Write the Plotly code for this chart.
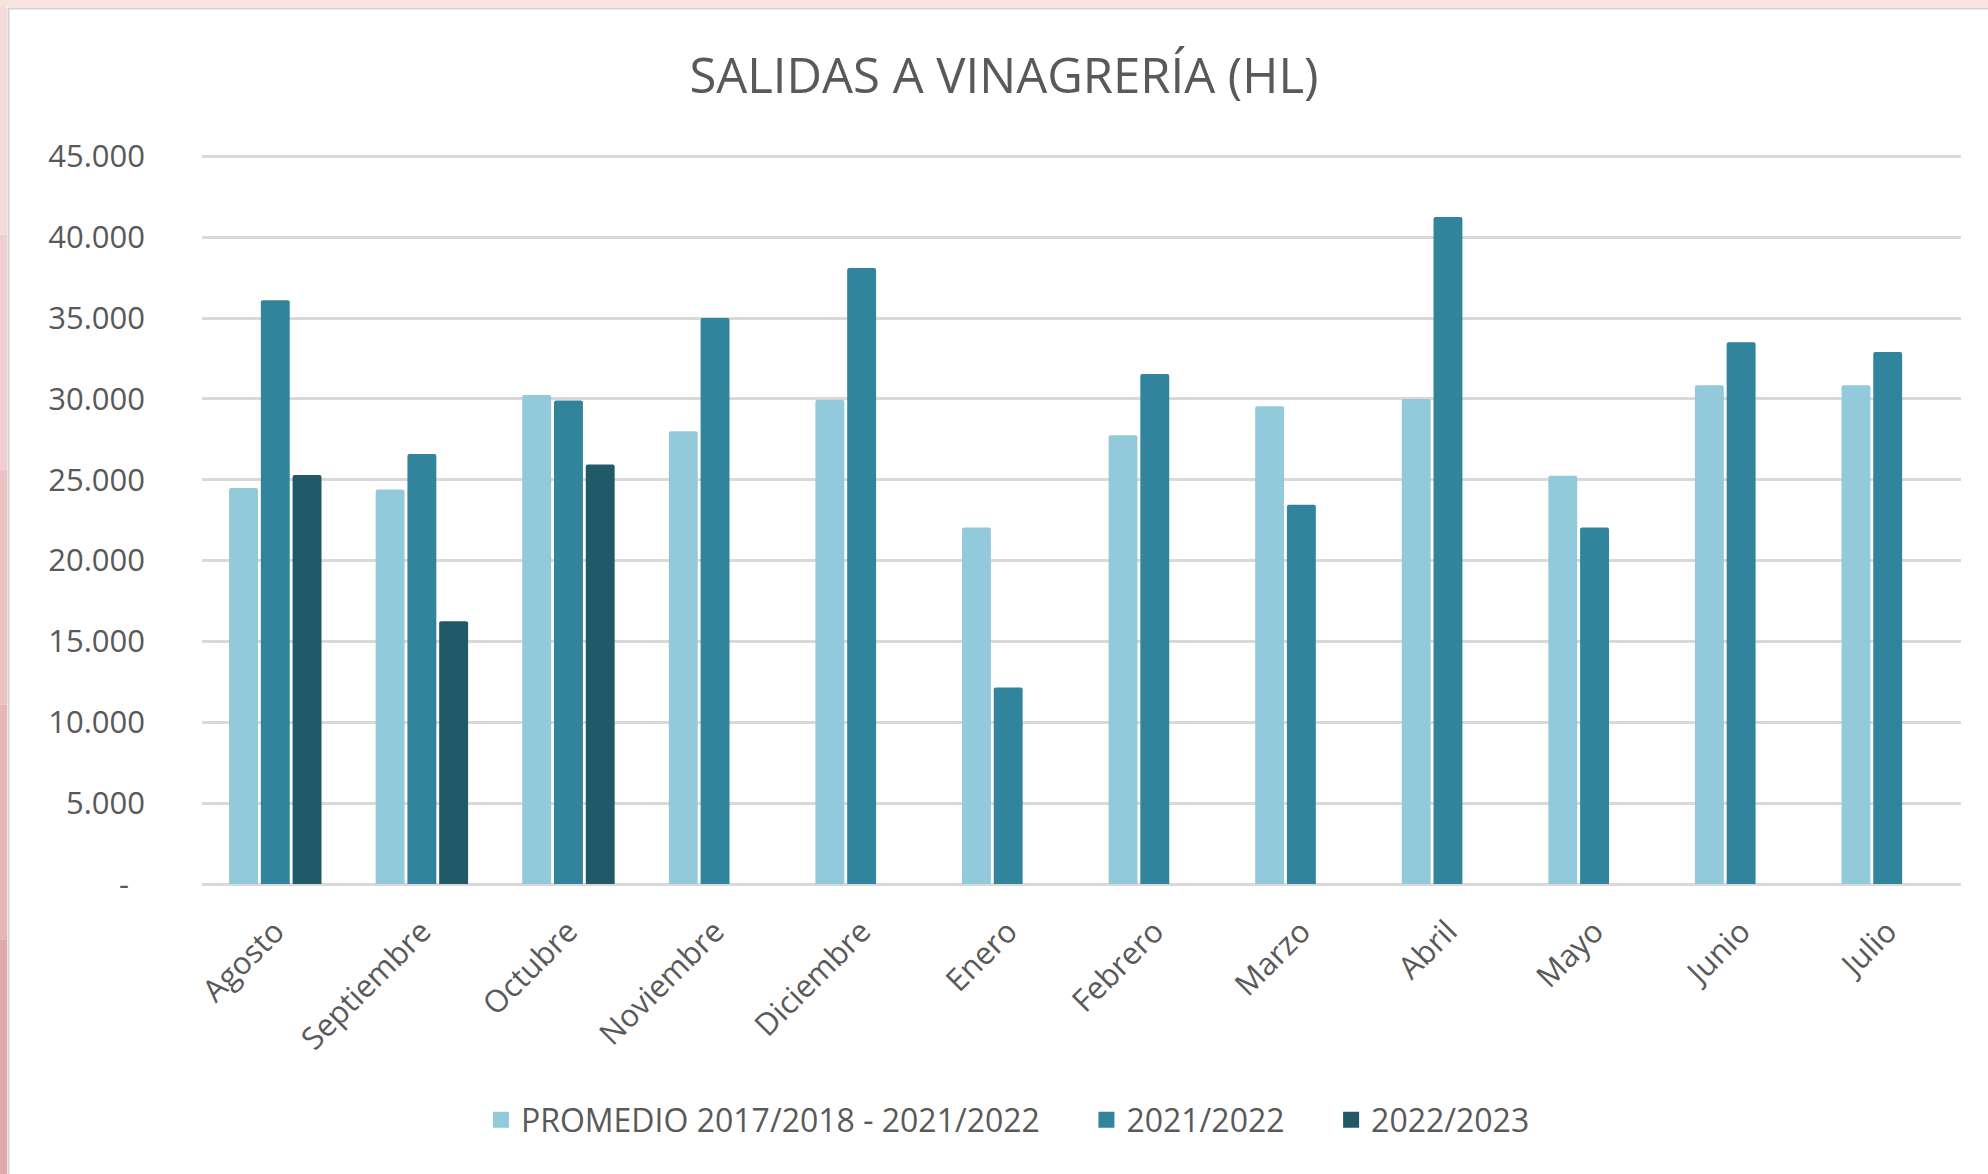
import plotly.graph_objects as go

months = ["Agosto", "Septiembre", "Octubre", "Noviembre", "Diciembre", "Enero",
          "Febrero", "Marzo", "Abril", "Mayo", "Junio", "Julio"]
promedio = [24500, 24400, 30250, 28000, 29950, 22050, 27750, 29550, 30000, 25250, 30850, 30850]
s2122 = [36100, 26600, 29900, 35000, 38100, 12150, 31550, 23450, 41250, 22050, 33500, 32900]
s2223 = [25300, 16250, 25950, None, None, None, None, None, None, None, None, None]
series_names = ["PROMEDIO 2017/2018 - 2021/2022", "2021/2022", "2022/2023"]
colors = ["#92CADC", "#31849B", "#205A69"]
ytick_vals = [0, 5000, 10000, 15000, 20000, 25000, 30000, 35000, 40000, 45000]
ytick_text = ["-\u00a0\u00a0", "5.000", "10.000", "15.000", "20.000", "25.000",
              "30.000", "35.000", "40.000", "45.000"]

W, H = 1988, 1174
ML, MR, MT, MB = 202, 27, 154, 290
PW, PH = W - ML - MR, H - MT - MB

def px(x):
    return (x - ML) / PW

def py(y):
    return (H - MB - y) / PH

FONT = "Open Sans"
TXT = "#595959"
PAD = "\u00a0" * 5

fig = go.Figure()
for name, vals, col in zip(series_names, [promedio, s2122, s2223], colors):
    fig.add_trace(go.Bar(x=months, y=vals, name=name, showlegend=False,
                         legendgroup=name, marker=dict(color=col, line=dict(width=0))))
# legend entries (square swatches)
for i, (name, col) in enumerate(zip(series_names, colors)):
    label = name + (PAD if i < len(series_names) - 1 else "")
    fig.add_trace(go.Scatter(x=[None], y=[None], mode="markers", name=label,
                             legendgroup=name,
                             marker=dict(symbol="square", size=16, color=col),
                             hoverinfo="skip"))

shapes = []
segs = ["#f3dadb", "#efcfd0", "#eac2c3", "#e5b5b7", "#e0aaac"]
n = len(segs)
for i, c in enumerate(segs):
    shapes.append(dict(type="rect", xref="paper", yref="paper", layer="above",
                       x0=px(0), x1=px(7), y0=py(H * (i + 1) / n), y1=py(H * i / n),
                       fillcolor=c, line=dict(width=0)))
shapes.append(dict(type="rect", xref="paper", yref="paper", layer="above",
                   x0=px(0), x1=px(W), y0=py(7), y1=py(0),
                   fillcolor="#f9e2e2", line=dict(width=0)))
shapes.append(dict(type="line", xref="paper", yref="paper", layer="above",
                   x0=px(8.5), x1=px(8.5), y0=py(H), y1=py(8),
                   line=dict(color="#d4d4d4", width=2)))
shapes.append(dict(type="line", xref="paper", yref="paper", layer="above",
                   x0=px(8), x1=px(W), y0=py(8.5), y1=py(8.5),
                   line=dict(color="#d4d4d4", width=2)))

fig.update_layout(
    width=W, height=H,
    margin=dict(l=ML, r=MR, t=MT, b=MB, autoexpand=False),
    paper_bgcolor="white", plot_bgcolor="white",
    barmode="group", bargap=0.35, bargroupgap=0.09, barcornerradius=2,
    font=dict(family=FONT, color=TXT, size=31),
    title=dict(text="SALIDAS A VINAGRERÍA (HL)", x=0.505, xref="container", xanchor="center",
               y=1 - 76 / H, yref="container", yanchor="middle",
               font=dict(family=FONT, size=49, color=TXT)),
    xaxis=dict(tickangle=-45, showgrid=False, showline=False, ticks="",
               tickfont=dict(size=31, color=TXT), ticklabelstandoff=22),
    yaxis=dict(range=[0, 45150], tickvals=ytick_vals, ticktext=ytick_text,
               showgrid=True, gridcolor="#d9d9d9", gridwidth=2.5,
               zeroline=True, zerolinecolor="#d9d9d9", zerolinewidth=2.5,
               showline=False, ticks="", tickfont=dict(size=31, color=TXT),
               ticklabelstandoff=56),
    legend=dict(orientation="h", x=0.507, xref="container", xanchor="center",
                y=py(1120), yanchor="middle", font=dict(size=32, color=TXT),
                itemsizing="trace", traceorder="normal"),
    shapes=shapes,
)

fig.write_html("out.html", config={"displayModeBar": False},
               post_script="document.body.style.margin='0px';")
